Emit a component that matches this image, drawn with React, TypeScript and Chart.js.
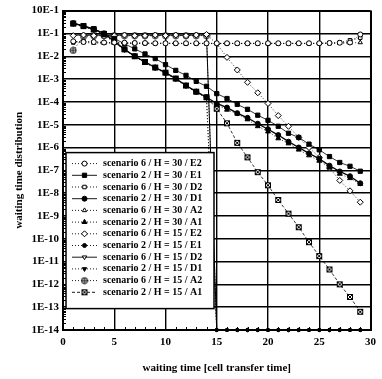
import React, { useEffect, useRef } from 'react';
import { Chart, registerables } from 'chart.js';
import { drawPoint } from 'chart.js/helpers';

Chart.register(...registerables);

// ---------- data ----------
const xValues = [1, 2, 3, 4, 5, 6, 7, 8, 9, 10, 11, 12, 13, 14, 15, 16, 17, 18, 19, 20, 21, 22, 23, 24, 25, 26, 27, 28, 29];

const xTickValues = [0, 5, 10, 15, 20, 25, 30];
const yTickValues = [1, 1e-1, 1e-2, 1e-3, 1e-4, 1e-5, 1e-6, 1e-7, 1e-8, 1e-9, 1e-10, 1e-11, 1e-12, 1e-13, 1e-14];
const yTickLabels = ['10E-1', '1E-1', '1E-2', '1E-3', '1E-4', '1E-5', '1E-6', '1E-7', '1E-8', '1E-9', '1E-10', '1E-11', '1E-12', '1E-13', '1E-14'];

const xTitle = 'waiting time [cell transfer time]';
const yTitle = 'waiting time distribution';

const seriesNames = [
  'scenario 6 / H = 30 / E2',
  'scenario 2 / H = 30 / E1',
  'scenario 6 / H = 30 / D2',
  'scenario 2 / H = 30 / D1',
  'scenario 6 / H = 30 / A2',
  'scenario 2 / H = 30 / A1',
  'scenario 6 / H = 15 / E2',
  'scenario 2 / H = 15 / E1',
  'scenario 6 / H = 15 / D2',
  'scenario 2 / H = 15 / D1',
  'scenario 6 / H = 15 / A2',
  'scenario 2 / H = 15 / A1',
];

const s6H30E2 = [0.045, 0.042, 0.042, 0.04, 0.04, 0.039, 0.038, 0.038, 0.037, 0.037, 0.037, 0.037, 0.037, 0.037, 0.037, 0.037, 0.037, 0.037, 0.037, 0.037, 0.037, 0.037, 0.037, 0.037, 0.037, 0.038, 0.039, 0.04, 0.09];
const s2H30E1 = [0.28, 0.22, 0.16, 0.1, 0.06, 0.035, 0.021, 0.0126, 0.0079, 0.0043, 0.0024, 0.00145, 7.9e-4, 4.8e-4, 2.3e-4, 1.4e-4, 7.8e-5, 4.7e-5, 2.6e-5, 1.55e-5, 8.5e-6, 4.2e-6, 2.75e-6, 1.4e-6, 7.9e-7, 4e-7, 2.2e-7, 1.5e-7, 9.1e-8];
const s6H30D2 = [0.04, 0.045, 0.043, 0.04, 0.039, 0.038, 0.038, 0.037, 0.037, 0.037, 0.036, 0.036, 0.036, 0.036, 0.036, 0.036, 0.036, 0.036, 0.036, 0.036, 0.036, 0.036, 0.036, 0.036, 0.037, 0.038, 0.04, 0.05, 0.065];
const s2H30D1 = [0.28, 0.21, 0.15, 0.1, 0.045, 0.02, 0.01, 5.6e-3, 3.2e-3, 1.9e-3, 1.05e-3, 5.2e-4, 2.8e-4, 1.6e-4, 8.5e-5, 5.6e-5, 3.2e-5, 2e-5, 1.1e-5, 6.3e-6, 3.5e-6, 1.8e-6, 1e-6, 5.5e-7, 3.2e-7, 1.6e-7, 8.9e-8, 5.5e-8, 2.7e-8];
const s6H30A2 = [0.045, 0.04, 0.038, 0.037, 0.037, 0.036, 0.036, 0.036, 0.036, 0.036, 0.036, 0.036, 0.036, 0.036, 0.036, 0.036, 0.036, 0.036, 0.036, 0.036, 0.036, 0.036, 0.036, 0.036, 0.036, 0.036, 0.037, 0.038, 0.04];
const s2H30A1 = [0.25, 0.2, 0.14, 0.085, 0.04, 0.019, 9.5e-3, 5.2e-3, 3e-3, 1.8e-3, 1e-3, 5e-4, 2.6e-4, 1.5e-4, 7.5e-5, 4.5e-5, 3e-5, 1.7e-5, 8.5e-6, 5e-6, 2.5e-6, 1.5e-6, 8e-7, 4.5e-7, 2.6e-7, 1.3e-7, 7e-8, 4.5e-8, 2.5e-8];
const s6H15E2 = [0.08, 0.085, 0.08, 0.08, 0.08, 0.085, 0.08, 0.08, 0.085, 0.08, 0.085, 0.08, 0.085, 0.09, 0.035, 8.9e-3, 2.5e-3, 7.2e-4, 2.5e-4, 8.5e-5, 2.5e-5, 8.5e-6, 2.75e-6, 1e-6, 3.7e-7, 1.26e-7, 3.6e-8, 1.26e-8, 4e-9];
const s2H15E1 = [0.27, 0.21, 0.15, 0.095, 0.045, 0.02, 0.0105, 5.8e-3, 3.3e-3, 1.9e-3, 1.05e-3, 5.3e-4, 2.9e-4, 1.6e-4, 1e-14, 1e-14, 1e-14, 1e-14, 1e-14, 1e-14, 1e-14, 1e-14, 1e-14, 1e-14, 1e-14, 1e-14, 1e-14, 1e-14, 1e-14];
const s6H15D2 = [0.085, 0.085, 0.085, 0.085, 0.085, 0.085, 0.085, 0.085, 0.085, 0.085, 0.085, 0.085, 0.085, 0.085, 1e-14, 1e-14, 1e-14, 1e-14, 1e-14, 1e-14, 1e-14, 1e-14, 1e-14, 1e-14, 1e-14, 1e-14, 1e-14, 1e-14, 1e-14];
const s2H15D1 = [0.26, 0.2, 0.145, 0.09, 0.042, 0.019, 0.01, 5.4e-3, 3.1e-3, 1.8e-3, 1e-3, 5e-4, 2.7e-4, 1.55e-4, 1e-14, 1e-14, 1e-14, 1e-14, 1e-14, 1e-14, 1e-14, 1e-14, 1e-14, 1e-14, 1e-14, 1e-14, 1e-14, 1e-14, 1e-14];
const s6H15A2 = [0.018, 0.075, 0.08, 0.08, 0.08, 0.08, 0.08, 0.08, 0.08, 0.08, 0.08, 0.08, 0.08, 0.08, 1e-14, 1e-14, 1e-14, 1e-14, 1e-14, 1e-14, 1e-14, 1e-14, 1e-14, 1e-14, 1e-14, 1e-14, 1e-14, 1e-14, 1e-14];
const s2H15A1 = [0.27, 0.21, 0.15, 0.095, 0.045, 0.02, 0.01, 5.6e-3, 3.2e-3, 1.9e-3, 1.05e-3, 5.2e-4, 2.8e-4, 1.6e-4, 5e-5, 1.15e-5, 1.6e-6, 3.7e-7, 8.3e-8, 2.2e-8, 5e-9, 1.26e-9, 3.2e-10, 7.1e-11, 1.74e-11, 4.5e-12, 1e-12, 2.8e-13, 6.3e-14];

const seriesData = [s6H30E2, s2H30E1, s6H30D2, s2H30D1, s6H30A2, s2H30A1, s6H15E2, s2H15E1, s6H15D2, s2H15D1, s6H15A2, s2H15A1];

// ---------- styles ----------
const DOT = [1, 2];
const DASH = [3, 2];
const seriesStyles = [
  { dash: DOT, point: 'circle', filled: false, rot: 0, r: 2.5, lw: 0.8 },
  { dash: [], point: 'rect', filled: true, rot: 0, r: 3, lw: 0.8 },
  { dash: DOT, point: 'rect', filled: false, rot: 0, r: 2.5, lw: 0.8 },
  { dash: [], point: 'circle', filled: true, rot: 0, r: 2.5, lw: 1.3 },
  { dash: DOT, point: 'triangle', filled: false, rot: 0, r: 2.5, lw: 0.8 },
  { dash: DOT, point: 'triangle', filled: true, rot: 0, r: 2.8, lw: 0.8 },
  { dash: DOT, point: 'rectRot', filled: false, rot: 0, r: 3, lw: 0.8 },
  { dash: DOT, point: 'circle', filled: true, rot: 0, r: 2, lw: 0.8 },
  { dash: [], point: 'triangle', filled: false, rot: 180, r: 2.5, lw: 1 },
  { dash: DOT, point: 'triangle', filled: true, rot: 180, r: 2.5, lw: 0.8 },
  { dash: DOT, point: 'circlePlus', filled: false, rot: 0, r: 3, lw: 0.8 },
  { dash: DASH, point: 'squareX', filled: false, rot: 0, r: 3, lw: 0.8 },
];

const FONT = '"Liberation Serif", "Times New Roman", serif';

function makeMarker(kind: string) {
  const c = document.createElement('canvas');
  c.width = 8;
  c.height = 8;
  const g = c.getContext('2d')!;
  g.strokeStyle = '#000';
  g.fillStyle = '#fff';
  g.lineWidth = 1;
  if (kind === 'circlePlus') {
    g.beginPath();
    g.arc(4, 4, 3, 0, Math.PI * 2);
    g.fill();
    g.stroke();
    g.beginPath();
    g.moveTo(1, 4);
    g.lineTo(7, 4);
    g.moveTo(4, 1);
    g.lineTo(4, 7);
    g.stroke();
  } else {
    g.fillRect(1, 1, 6, 6);
    g.strokeRect(1.5, 1.5, 5, 5);
    g.beginPath();
    g.moveTo(1.5, 1.5);
    g.lineTo(6.5, 6.5);
    g.moveTo(6.5, 1.5);
    g.lineTo(1.5, 6.5);
    g.stroke();
  }
  return c;
}

const overlayPlugin = {
  id: 'overlay',
  afterDatasetsDraw(chart: any) {
    const { ctx, chartArea } = chart;
    const xs = chart.scales.x;
    const ys = chart.scales.y;
    ctx.save();
    // minor ticks
    ctx.strokeStyle = '#000';
    ctx.lineWidth = 1;
    ctx.beginPath();
    for (let i = 1; i < 30; i++) {
      if (i % 5 === 0) continue;
      const px = Math.round(xs.getPixelForValue(i)) + 0.5;
      ctx.moveTo(px, chartArea.bottom);
      ctx.lineTo(px, chartArea.bottom - 3);
    }
    for (let n = -14; n < 0; n++) {
      for (let k = 2; k <= 9; k++) {
        const py = Math.round(ys.getPixelForValue(k * Math.pow(10, n))) + 0.5;
        ctx.moveTo(chartArea.left, py);
        ctx.lineTo(chartArea.left + 3, py);
      }
    }
    ctx.stroke();

    // boxed legend inside plot
    const left = chartArea.left + 3;
    const top = chartArea.top + 142;
    const w = 148;
    const h = 156;
    ctx.fillStyle = '#fff';
    ctx.fillRect(left, top, w, h);
    ctx.lineWidth = 1.5;
    ctx.strokeRect(left, top, w, h);
    chart.data.datasets.forEach((ds: any, i: number) => {
      const y = top + 11 + i * 11.7;
      ctx.strokeStyle = '#000';
      ctx.lineWidth = 0.9;
      ctx.setLineDash(ds.borderDash || []);
      ctx.beginPath();
      ctx.moveTo(left + 6, y);
      ctx.lineTo(left + 31, y);
      ctx.stroke();
      ctx.setLineDash([]);
      ctx.fillStyle = ds.pointBackgroundColor;
      ctx.lineWidth = 1;
      drawPoint(ctx, { pointStyle: ds.pointStyle, rotation: ds.pointRotation || 0, radius: ds.legendRadius, borderWidth: 1 } as any, left + 18.5, y);
      ctx.fillStyle = '#000';
      ctx.font = 'bold 10px ' + FONT;
      ctx.textBaseline = 'middle';
      ctx.textAlign = 'left';
      ctx.fillText(ds.label, left + 37, y);
    });
    ctx.restore();
  },
};

export default function App() {
  const ref = useRef<HTMLCanvasElement>(null);
  useEffect(() => {
    const markers: Record<string, any> = {
      circlePlus: makeMarker('circlePlus'),
      squareX: makeMarker('squareX'),
    };
    const datasets = seriesNames.map((name, i) => {
      const st = seriesStyles[i];
      return {
        label: name,
        data: xValues.map((x, j) => ({ x, y: seriesData[i][j] })),
        borderColor: '#000',
        borderWidth: st.lw,
        borderDash: st.dash,
        pointStyle: (c: any) => (c.raw && c.raw.y <= 1e-14 ? 'circle' : markers[st.point] || st.point),
        pointRotation: st.rot,
        pointRadius: (c: any) => (c.raw && c.raw.y <= 1e-14 ? 1.6 : st.r),
        legendRadius: st.r,
        pointBorderWidth: 1,
        pointBorderColor: '#000',
        pointBackgroundColor: st.filled ? '#000' : '#fff',
        fill: false,
        tension: 0,
        clip: false,
      };
    });
    const legendDatasets = datasets.map((d, i) => ({ ...d, pointStyle: markers[seriesStyles[i].point] || seriesStyles[i].point }));
    const edge = (v: number, a: number, b: number) => (v === a || v === b ? 2 : 1.4);
    const chart = new Chart(ref.current!, {
      type: 'line',
      data: { datasets },
      plugins: [
        {
          id: 'legendProxy',
          afterDatasetsDraw(ch: any) {
            overlayPlugin.afterDatasetsDraw({ ...ch, ctx: ch.ctx, chartArea: ch.chartArea, scales: ch.scales, data: { datasets: legendDatasets } });
          },
        },
      ],
      options: {
        animation: false,
        responsive: false,
        devicePixelRatio: 1,
        layout: { padding: { left: 0, right: 6, top: 10, bottom: 0 } },
        plugins: { legend: { display: false }, tooltip: { enabled: false } },
        scales: {
          x: {
            type: 'linear',
            min: 0,
            max: 30,
            afterBuildTicks: (s: any) => { s.ticks = xTickValues.map((v) => ({ value: v })); },
            afterFit: (s: any) => { s.height = 49; },
            grid: { color: '#000', lineWidth: (c: any) => edge(c.tick ? c.tick.value : 0, 0, 30), drawTicks: false },
            border: { color: '#000', width: 2 },
            ticks: { color: '#000', padding: 6, font: { family: FONT, size: 11, weight: 'bold' } },
            title: { display: true, text: xTitle, color: '#000', padding: { top: 0, bottom: 4 }, font: { family: FONT, size: 11, weight: 'bold' } },
          },
          y: {
            type: 'logarithmic',
            min: 1e-14,
            max: 1,
            afterBuildTicks: (s: any) => { s.ticks = yTickValues.slice().reverse().map((v) => ({ value: v })); },
            afterFit: (s: any) => { s.width = 63; },
            grid: { color: '#000', lineWidth: (c: any) => edge(c.tick ? c.tick.value : 0, 1, 1e-14), drawTicks: false },
            border: { color: '#000', width: 2 },
            ticks: {
              color: '#000',
              padding: 4,
              autoSkip: false,
              font: { family: FONT, size: 11, weight: 'bold' },
              callback: (v: any) => {
                const idx = yTickValues.indexOf(Number(v));
                return idx >= 0 ? yTickLabels[idx] : '';
              },
            },
            title: { display: true, text: yTitle, color: '#000', padding: { top: 13, bottom: 0 }, font: { family: FONT, size: 11, weight: 'bold' } },
          },
        },
      } as any,
    });
    return () => chart.destroy();
  }, []);
  return (
    <div style={{ position: 'fixed', left: 0, top: 0, width: 382, height: 379, background: '#fff' }}>
      <canvas ref={ref} width={382} height={379} style={{ display: 'block', width: 382, height: 379 }} />
    </div>
  );
}
